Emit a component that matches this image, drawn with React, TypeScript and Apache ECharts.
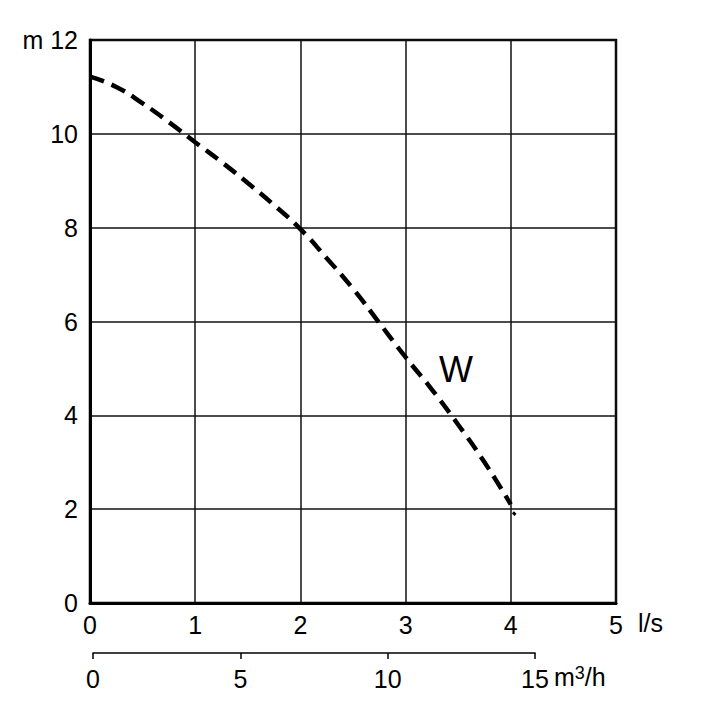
import React, { useEffect, useRef } from "react";
import * as echarts from "echarts";

const flowLs = [0, 0.25, 0.5, 0.75, 1.0, 1.25, 1.5, 1.75, 2.0, 2.25, 2.5, 2.75, 3.0, 3.25, 3.5, 3.75, 4.0];
const headM = [11.22, 11.0, 10.65, 10.25, 9.82, 9.4, 8.95, 8.48, 7.97, 7.35, 6.7, 5.97, 5.24, 4.55, 3.8, 3.0, 2.1];
const tailLs = [4.02, 4.045];
const tailM = [1.93, 1.88];
const xTicksLs = [0, 1, 2, 3, 4, 5];
const yTicksM = [0, 2, 4, 6, 8, 10, 12];
const m3hTicks = [0, 5, 10, 15];
const curveLabel = "W";
const curveLabelPos = [3.48, 4.98];

const FONT = "'Liberation Sans', Arial, Helvetica, sans-serif";

export default function App() {
  const ref = useRef<HTMLDivElement>(null);
  useEffect(() => {
    if (!ref.current) return;
    const chart = echarts.init(ref.current, undefined, { renderer: "svg" });
    const curve = flowLs.map((x, i) => [x, headM[i]]);
    const tail = tailLs.map((x, i) => [x, tailM[i]]);
    chart.setOption({
      animation: false,
      backgroundColor: "#fff",
      textStyle: { fontFamily: FONT },
      grid: [
        { left: 90, top: 40, width: 526, height: 563, show: true, borderColor: "#000", borderWidth: 2.5, backgroundColor: "transparent" },
        { left: 93, top: 603, width: 442, height: 50, show: false },
      ],
      xAxis: [
        {
          type: "value", gridIndex: 0, min: xTicksLs[0], max: xTicksLs[xTicksLs.length - 1], interval: 1,
          axisLine: { show: true, lineStyle: { color: "#000", width: 3 } },
          axisTick: { show: false },
          splitLine: { show: true, lineStyle: { color: "#111", width: 1.5 } },
          axisLabel: { color: "#000", fontSize: 25, fontFamily: FONT, margin: 9 },
        },
        {
          type: "value", gridIndex: 1, position: "bottom", min: m3hTicks[0], max: m3hTicks[m3hTicks.length - 1], interval: 5,
          axisLine: { show: true, onZero: false, lineStyle: { color: "#000", width: 1.5 } },
          axisTick: { show: true, inside: false, length: 6, lineStyle: { color: "#000", width: 1.5 } },
          splitLine: { show: false },
          axisLabel: { color: "#000", fontSize: 25, fontFamily: FONT, margin: 13 },
        },
      ],
      yAxis: [
        {
          type: "value", gridIndex: 0, min: yTicksM[0], max: yTicksM[yTicksM.length - 1], interval: 2,
          axisLine: { show: true, lineStyle: { color: "#000", width: 3 } },
          axisTick: { show: false },
          splitLine: { show: true, lineStyle: { color: "#111", width: 1.5 } },
          axisLabel: {
            color: "#000", fontSize: 25, fontFamily: FONT, margin: 12,
            formatter: (v: number) => (v === 12 ? "m 12" : String(v)),
          },
        },
        { type: "value", gridIndex: 1, show: false, min: 0, max: 1 },
      ],
      graphic: [
        { type: "text", left: 638, top: 610, style: { text: "l/s", fontSize: 25, fontFamily: FONT, fill: "#000" } },
        {
          type: "text", left: 554, top: 664,
          style: {
            text: "m{s|3}/h", fontSize: 25, fontFamily: FONT, fill: "#000",
            rich: { s: { fontSize: 18, fontFamily: FONT, fill: "#000", verticalAlign: "top", padding: [0, 0, 8, 0] } },
          },
        },
      ],
      series: [
        {
          type: "line", xAxisIndex: 0, yAxisIndex: 0, data: curve, smooth: true, symbol: "none",
          lineStyle: { color: "#000", width: 4.5, type: [15, 8] },
        },
        {
          type: "line", xAxisIndex: 0, yAxisIndex: 0, data: tail, symbol: "none",
          lineStyle: { color: "#000", width: 3 },
        },
        {
          type: "scatter", xAxisIndex: 0, yAxisIndex: 0, data: [curveLabelPos], symbolSize: 1,
          itemStyle: { color: "#fff", opacity: 0 },
          label: {
            show: true, position: "inside", formatter: curveLabel, fontSize: 36, fontFamily: FONT,
            color: "#000", opacity: 1, textBorderWidth: 0, textBorderColor: "transparent",
          },
        },
      ],
    });
    return () => chart.dispose();
  }, []);
  return <div ref={ref} style={{ position: "fixed", left: 0, top: 0, width: 710, height: 701 }} />;
}
